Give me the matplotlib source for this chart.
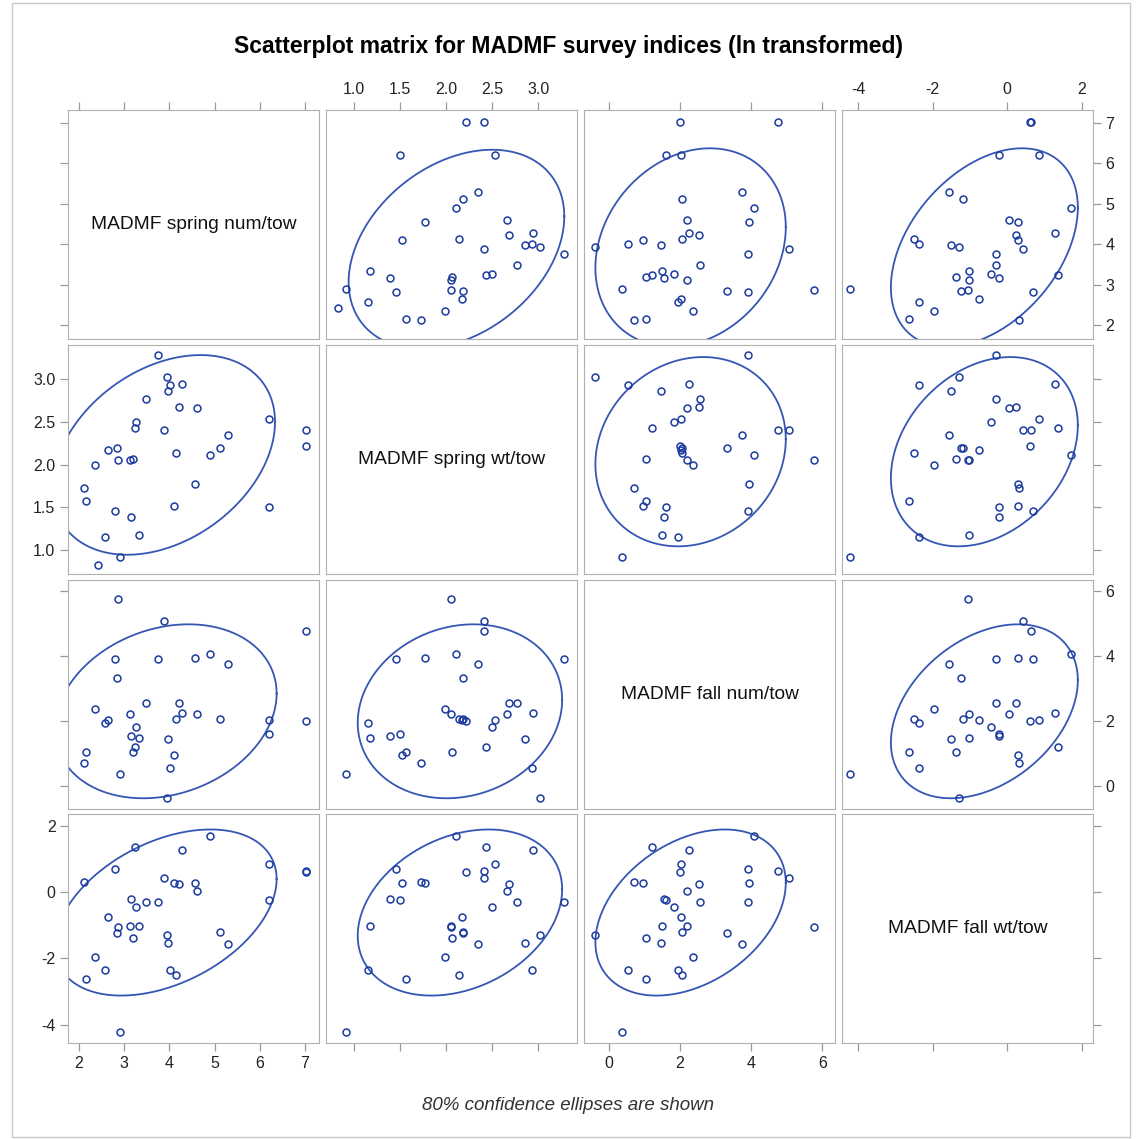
import numpy as np
import matplotlib
matplotlib.use('Agg')
import matplotlib.pyplot as plt
from matplotlib.patches import Rectangle

plt.rcParams['font.family'] = ['Liberation Sans', 'DejaVu Sans']

names = ['MADMF spring num/tow', 'MADMF spring wt/tow', 'MADMF fall num/tow', 'MADMF fall wt/tow']

# ln transformed indices, one entry per survey year (last year has no fall data)
spring_num = [4.89, 3.24, 4.28, 6.21, 7.02, 7.02, 2.81, 2.12, 3.89, 4.11, 4.22, 4.56,
              4.61, 6.21, 3.16, 3.26, 3.49, 3.75, 2.64, 2.87, 2.84, 3.13, 3.33, 3.20,
              3.94, 3.98, 5.13, 5.29, 2.35, 2.58, 2.16, 4.02, 4.14, 2.90, 2.42]
spring_wt = [2.11, 2.43, 2.94, 2.53, 2.41, 2.22, 1.46, 1.73, 2.41, 1.52, 2.68, 1.77,
             2.66, 1.50, 1.39, 2.50, 2.77, 3.28, 2.17, 2.06, 2.19, 2.05, 1.18, 2.07,
             3.02, 2.86, 2.19, 2.35, 1.99, 1.15, 1.57, 2.93, 2.14, 0.92, 0.83]
fall_num = [4.07, 1.21, 2.24, 2.04, 4.77, 2.01, 3.90, 0.71, 5.07, 0.96, 2.54, 3.95,
            2.21, 1.60, 1.54, 1.82, 2.55, 3.90, 2.03, 5.77, 3.31, 2.20, 1.48, 1.04,
            -0.38, 1.46, 2.06, 3.74, 2.36, 1.93, 1.05, 0.55, 2.07, 0.37, np.nan]
fall_wt = [1.71, 1.36, 1.27, 0.86, 0.63, 0.61, 0.69, 0.32, 0.42, 0.28, 0.24, 0.28,
           0.05, -0.22, -0.21, -0.44, -0.30, -0.30, -0.76, -1.06, -1.24, -1.02, -1.02, -1.38,
           -1.29, -1.52, -1.19, -1.56, -1.97, -2.36, -2.63, -2.36, -2.51, -4.22, np.nan]

tick_vals = [[2, 3, 4, 5, 6, 7], [1.0, 1.5, 2.0, 2.5, 3.0], [0, 2, 4, 6], [-4, -2, 0, 2]]
tick_labs = [['2', '3', '4', '5', '6', '7'], ['1.0', '1.5', '2.0', '2.5', '3.0'],
             ['0', '2', '4', '6'], ['-4', '-2', '0', '2']]
xlims = [(1.76, 7.31), (0.70, 3.42), (-0.70, 6.36), (-4.43, 2.30)]
ylims = [(1.66, 7.32), (0.72, 3.40), (-0.71, 6.34), (-4.55, 2.36)]

data = [np.array(spring_num), np.array(spring_wt), np.array(fall_num), np.array(fall_wt)]

W, H = 1137, 1139
fig = plt.figure(figsize=(W / 100, H / 100), dpi=100)
fig.patches.append(Rectangle((12 / W, 2 / H), 1118 / W, 1134 / H, transform=fig.transFigure,
                             fill=False, edgecolor='#c8c8c8', lw=1))

lefts = [68, 326, 584, 842]
tops = [110, 345, 580, 814]
pw, ph = 251, 229
mcol = '#1d3c9e'
ecol = '#3556b3'
gray = '#9a9a9a'


def ellipse(x, y, alpha=0.2):
    ok = ~(np.isnan(x) | np.isnan(y))
    x, y = x[ok], y[ok]
    n = len(x)
    m = n - 2
    f = m / 2 * ((alpha) ** (-2 / m) - 1)
    c = np.sqrt(2 * (n - 1) * (n + 1) / (n * m) * f)
    S = np.cov(x, y)
    L = np.linalg.cholesky(S)
    t = np.linspace(0, 2 * np.pi, 300)
    pts = c * L @ np.vstack([np.cos(t), np.sin(t)])
    return x.mean() + pts[0], y.mean() + pts[1]


for i in range(4):
    for j in range(4):
        ax = fig.add_axes([lefts[j] / W, 1 - (tops[i] + ph) / H, pw / W, ph / H])
        ax.set_xlim(xlims[j])
        ax.set_ylim(ylims[i])
        ax.set_xticks(tick_vals[j])
        ax.set_xticklabels(tick_labs[j])
        ax.set_yticks(tick_vals[i])
        ax.set_yticklabels(tick_labs[i])
        for s in ax.spines.values():
            s.set_color('#b0b0b0')
        ax.tick_params(direction='out', length=6, width=0.9, color=gray, labelsize=11.5,
                       labelcolor='#222222', pad=3,
                       top=(i == 0), bottom=(i == 3), left=(j == 0), right=(j == 3),
                       labeltop=(i == 0 and j % 2 == 1), labelbottom=(i == 3 and j % 2 == 0),
                       labelleft=(j == 0 and i % 2 == 1), labelright=(j == 3 and i % 2 == 0))
        if i == j:
            ax.text(0.5, 0.5, names[i], transform=ax.transAxes, ha='center', va='center',
                    fontsize=13.8, color='#111111')
            continue
        ex, ey = ellipse(data[j], data[i])
        ax.plot(ex, ey, color=ecol, lw=1.3)
        ax.plot(data[j], data[i], 'o', ms=5, mfc='none', mec=mcol, mew=1.1)

fig.text(0.5, 1 - 47 / H, 'Scatterplot matrix for MADMF survey indices (ln transformed)',
         ha='center', va='center', fontsize=16.5, fontweight='bold')
fig.text(0.5, 1 - 1106 / H, '80% confidence ellipses are shown', ha='center', va='center',
         fontsize=13.5, style='italic', color='#333333')

fig.savefig('out.png', dpi=100)
